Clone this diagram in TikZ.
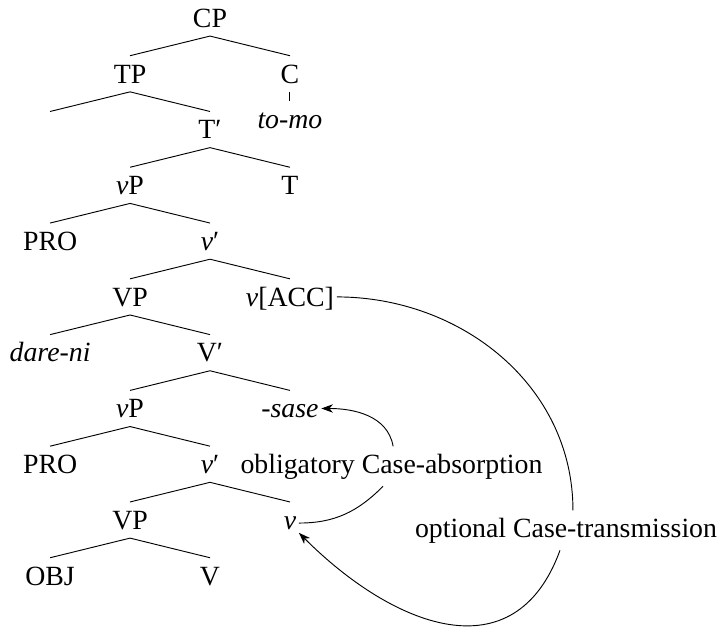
\documentclass[tikz,border=0pt]{standalone}
\usepackage{fontspec}
\setmainfont{Liberation Serif}
\usetikzlibrary{positioning,arrows.meta}

\begin{document}
\begin{tikzpicture}[
    x=0.4315pt, y=0.4315pt,
    node distance=24.07pt and 34.5pt, on grid,
    cat/.style={
        font=\fontsize{12}{14}\selectfont,
        text height=8pt, text depth=0pt,
        inner ysep=3.6pt, inner xsep=1pt
    },
    lbl/.style={font=\fontsize{12}{14}\selectfont, inner sep=3pt, anchor=base},
    arrow/.style={-{Stealth[length=5pt,width=3.6pt,inset=1.5pt]}}
]
\useasboundingbox (0,0) rectangle (720,-628);

% CP and its daughters
\node[cat] (cp) at (210,-18) {CP};
\node[cat, below left=of cp] (tp) {TP};
\node[cat, below right=of cp] (c) {C};
\node[cat, below=19.4pt of c] (tomo) {\textit{to-mo}};

% TP
\node[cat, below left=of tp] (spec) {};
\node[cat, below right=of tp] (tbar) {T′};

% T'
\node[cat, below left=of tbar] (vpa) {\textit{v}P};
\node[cat, below right=of tbar] (t) {T};

% higher vP
\node[cat, below left=of vpa] (proa) {PRO};
\node[cat, below right=of vpa] (vbara) {\textit{v}′};

% v' with v[ACC]
\node[cat, below left=of vbara] (vpb) {VP};
\node[cat, below right=of vbara] (vacc) {\textit{v}[ACC]};

% VP
\node[cat, below left=of vpb] (dareni) {\textit{dare-ni}};
\node[cat, below right=of vpb] (vbar) {V′};

% V' with -sase
\node[cat, below left=of vbar] (vpc) {\textit{v}P};
\node[cat, below right=of vbar] (sase) {\textit{-sase}};

% lower vP
\node[cat, below left=of vpc] (prob) {PRO};
\node[cat, below right=of vpc] (vbarb) {\textit{v}′};

% lower v'
\node[cat, below left=of vbarb] (vpd) {VP};
\node[cat, below right=of vbarb] (v) {\textit{v}};

% lowest VP
\node[cat, below left=of vpd] (obj) {OBJ};
\node[cat, below right=of vpd] (verb) {V};

% branches
\draw (cp.south) -- (tp.north);
\draw (cp.south) -- (c.north);
\draw (c.south) -- (tomo.north);
\draw (tp.south) -- (spec.north);
\draw (tp.south) -- (tbar.north);
\draw (tbar.south) -- (vpa.north);
\draw (tbar.south) -- (t.north);
\draw (vpa.south) -- (proa.north);
\draw (vpa.south) -- (vbara.north);
\draw (vbara.south) -- (vpb.north);
\draw (vbara.south) -- (vacc.north);
\draw (vpb.south) -- (dareni.north);
\draw (vpb.south) -- (vbar.north);
\draw (vbar.south) -- (vpc.north);
\draw (vbar.south) -- (sase.north);
\draw (vpc.south) -- (prob.north);
\draw (vpc.south) -- (vbarb.north);
\draw (vbarb.south) -- (vpd.north);
\draw (vbarb.south) -- (v.north);
\draw (vpd.south) -- (obj.north);
\draw (vpd.south) -- (verb.north);

% Case relations
\node[lbl] (absorb) at (391.5,-473) {obligatory Case-absorption};
\node[lbl] (transmit) at (566,-537) {optional Case-transmission};

\draw ([yshift=-1.3pt]v.east) to[out=0, in=225] ([xshift=-3.7pt]absorb.south);
\draw[arrow] ([xshift=0.7pt]absorb.north) to[out=100, in=0] (sase.east);

\draw (vacc.east) to[out=0, in=90] ([xshift=3pt]transmit.north);
\draw[arrow] ([xshift=-2.6pt]transmit.south) to[out=-110, in=-45, looseness=1.3] (v.-55);

\end{tikzpicture}
\end{document}
